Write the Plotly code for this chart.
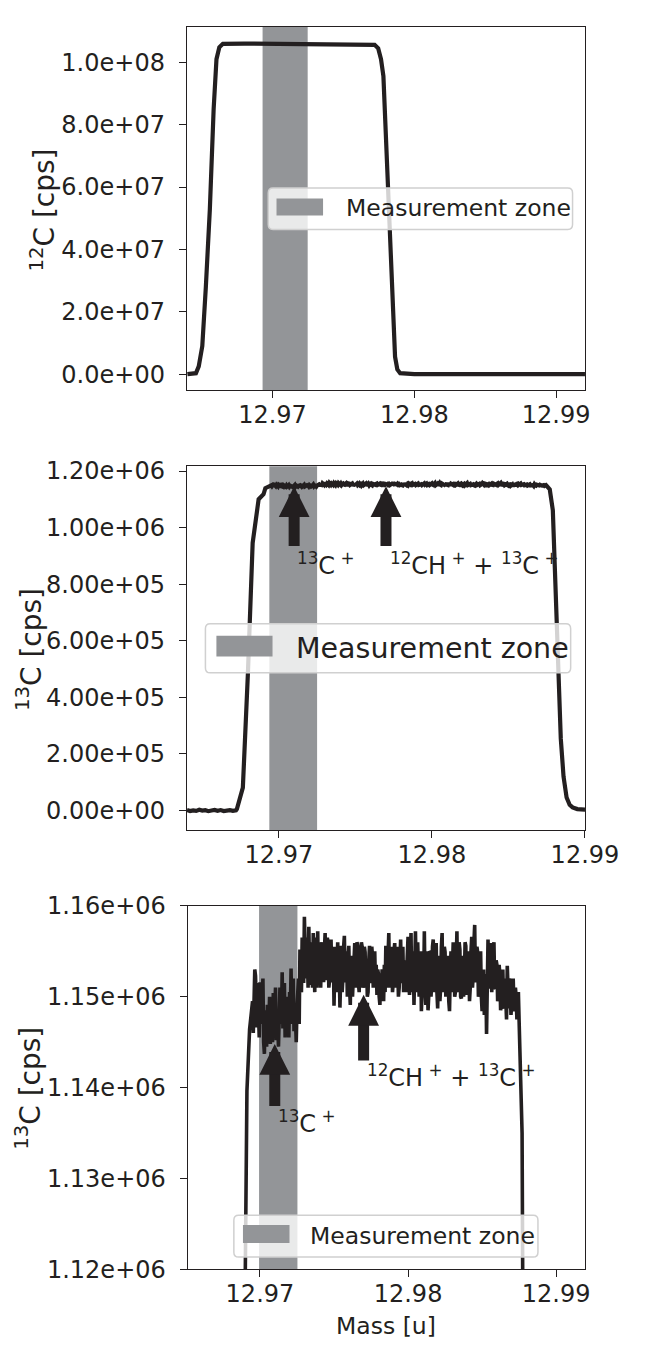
import plotly.graph_objects as go

W, H = 653, 1353
INK = '#231f20'
BAND = '#939598'
FONT = 'DejaVu Sans'

# ---------------- data ----------------
# 12C signal (cps)
mass_12c = [12.9640, 12.9644, 12.96460, 12.96480, 12.96505, 12.96530, 12.96558, 12.96585,
            12.96605, 12.96625, 12.96650, 12.9680, 12.9700, 12.9720, 12.9740, 12.9760,
            12.97720, 12.97745, 12.97765, 12.97782, 12.97796, 12.97808, 12.97822, 12.97836,
            12.97850, 12.97864, 12.97880, 12.97900, 12.9800, 12.9850, 12.9921]
cps_12c_mega = [0.0, 0.05, 0.3, 2.5, 9.0, 28.0, 52.7, 85.0,
                101.0, 104.8, 105.9, 106.0, 105.9, 105.8, 105.8, 105.7,
                105.6, 104.5, 101.0, 95.5, 80.0, 63.1, 45.0, 28.6,
                14.0, 5.6, 1.5, 0.3, 0.0, 0.0, 0.0]

# 13C signal: left baseline + rising edge
mass_13c_left = [12.9640, 12.9642, 12.9644, 12.9646, 12.9648, 12.9650, 12.9652, 12.9654,
                 12.9656, 12.9658, 12.9660, 12.9662, 12.9664, 12.9666, 12.9668, 12.9670,
                 12.9672, 12.96726, 12.96765, 12.96798, 12.96829, 12.96868, 12.96900,
                 12.96912, 12.96930]
kcps_13c_left = [1.5, -2.0, 0.5, -1.5, 2.5, -0.5, 1.0, -2.5,
                 0.0, 2.0, -1.0, 1.5, -2.0, 0.5, 1.0, -1.5,
                 0.5, 5.0, 80.7, 484.7, 946.0, 1100.0, 1118.0,
                 1139.6, 1146.4]
# plateau, regular scan: samples on the 0.0001 u grid and the half-step samples between them
plateau_start, plateau_step = 12.9695, 0.00005
kcps_13c_grid = [
    1149.5, 1151.0, 1152.3, 1146.6, 1149.0, 1151.6, 1148.0, 1152.0, 1143.7, 1146.5,
    1149.1, 1147.0, 1144.8, 1147.5, 1150.4, 1148.0, 1145.2, 1146.8, 1147.7, 1150.0,
    1152.7, 1148.5, 1145.5, 1147.0, 1148.8, 1150.5, 1153.1, 1149.0, 1146.2, 1147.5,
    1148.7, 1152.0, 1155.2, 1150.5, 1154.0, 1158.8, 1152.0, 1155.0, 1157.7, 1151.3,
    1153.5, 1157.0, 1150.5, 1154.0, 1157.2, 1152.0, 1151.0, 1156.0, 1151.6, 1157.0,
    1152.0, 1155.9, 1151.8, 1156.3, 1151.6, 1149.0, 1155.5, 1152.5, 1151.0, 1148.8,
    1155.6, 1152.0, 1156.7, 1151.6, 1150.0, 1155.6, 1149.1, 1153.5, 1151.6, 1155.9,
    1152.3, 1155.6, 1150.5, 1152.5, 1155.5, 1151.5, 1154.9, 1153.5, 1150.5, 1155.6,
    1153.0, 1154.5, 1152.3, 1151.3, 1150.2, 1152.5, 1149.1, 1150.5, 1151.3, 1153.5,
    1155.6, 1152.0, 1157.0, 1152.3, 1154.5, 1151.6, 1155.9, 1152.8, 1153.4, 1151.0,
    1156.3, 1152.5, 1150.5, 1154.0, 1153.4, 1156.6, 1150.2, 1157.0, 1152.0, 1149.1,
    1157.2, 1150.5, 1153.0, 1151.5, 1148.4, 1153.0, 1157.2, 1149.1, 1152.3, 1150.2,
    1154.9, 1151.6, 1156.3, 1150.5, 1155.9, 1148.7, 1154.5, 1151.0, 1157.0, 1152.0,
    1154.9, 1150.9, 1153.0, 1148.4, 1155.0, 1152.5, 1154.9, 1150.5, 1157.2, 1151.3,
    1155.2, 1149.8, 1154.5, 1151.6, 1155.6, 1150.2, 1153.8, 1151.0, 1156.6, 1152.3,
    1157.9, 1151.6, 1154.9, 1150.5, 1155.0, 1148.4, 1153.0, 1149.5, 1145.9, 1156.3,
    1150.9, 1155.9, 1152.0, 1156.0, 1150.9, 1153.5, 1150.2, 1152.5, 1149.1, 1153.0,
    1148.7, 1150.5, 1153.4, 1148.7, 1151.0, 1149.1, 1152.0, 1148.4, 1150.0, 1149.0,
    1147.3]
kcps_13c_half = [
    1146.0, 1153.0, 1147.5, 1151.5, 1145.5, 1147.0, 1151.5, 1145.0, 1148.5, 1144.5,
    1145.0, 1150.0, 1148.0, 1145.0, 1146.0, 1151.0, 1148.5, 1144.5, 1151.0, 1147.0,
    1146.5, 1151.5, 1148.0, 1150.0, 1145.5, 1148.0, 1147.0, 1152.0, 1149.0, 1145.0,
    1150.5, 1147.0, 1151.0, 1156.5, 1151.5, 1153.0, 1156.5, 1151.0, 1153.0, 1156.0,
    1151.0, 1152.0, 1156.5, 1151.0, 1151.5, 1156.0, 1154.5, 1152.5, 1155.0, 1152.0,
    1156.5, 1151.0, 1155.0, 1152.0, 1155.5, 1153.0, 1150.5, 1156.0, 1153.5, 1152.0,
    1150.5, 1155.5, 1152.0, 1155.0, 1154.0, 1151.0, 1154.5, 1150.0, 1154.5, 1151.0,
    1156.0, 1151.5, 1154.5, 1156.0, 1151.0, 1155.5, 1151.0, 1150.0, 1154.0, 1151.5,
    1155.5, 1151.0, 1155.0, 1153.5, 1153.0, 1150.0, 1152.5, 1153.0, 1149.5, 1150.5,
    1151.0, 1155.5, 1151.0, 1155.5, 1150.5, 1155.0, 1151.0, 1155.5, 1150.0, 1154.5,
    1151.5, 1155.5, 1153.5, 1150.5, 1156.0, 1151.5, 1154.0, 1150.5, 1155.0, 1153.5,
    1152.0, 1156.0, 1150.0, 1155.0, 1152.5, 1150.5, 1151.0, 1155.0, 1148.5, 1155.0,
    1150.0, 1155.5, 1151.5, 1154.5, 1150.5, 1152.5, 1149.5, 1155.5, 1150.5, 1155.5,
    1150.0, 1154.5, 1149.5, 1152.5, 1150.5, 1156.0, 1150.0, 1153.5, 1150.5, 1156.0,
    1150.0, 1153.5, 1150.0, 1156.0, 1151.0, 1155.0, 1149.5, 1155.0, 1151.0, 1156.0,
    1152.0, 1155.5, 1150.0, 1154.5, 1150.0, 1152.5, 1148.0, 1152.5, 1151.0, 1151.5,
    1155.0, 1150.5, 1154.5, 1151.0, 1154.0, 1149.5, 1153.5, 1148.5, 1152.5, 1149.0,
    1152.0, 1147.5, 1150.0, 1152.0, 1148.0, 1151.5, 1149.0, 1151.0, 1147.5, 1150.5]
# falling edge + right baseline
mass_13c_right = [12.98770, 12.98790, 12.98803, 12.98816, 12.98829, 12.98842, 12.98860,
                  12.98880, 12.98900, 12.98919, 12.98950, 12.9900, 12.9920]
kcps_13c_right = [1135.0, 1061.5, 880.0, 658.0, 450.0, 254.0, 120.0,
                  46.0, 20.0, 11.0, 5.0, 3.0, 2.0]

# measurement zone per panel (mass range)
zone_12c = [12.96930, 12.97248]
zone_13c = [12.96938, 12.97250]
zone_13c_zoom = [12.96994, 12.97253]

# peak labels / arrows
arrow_mass = [12.9710, 12.9770]
label_mass = [12.97106, 12.97711]
NB = '\u00a0'
peak_labels = ['<sup>13</sup>C<sup>' + NB + '+</sup>',
               '<sup>12</sup>CH<sup>' + NB + '+</sup>' + NB + '+' + NB
               + '<sup>13</sup>C<sup>' + NB + '+</sup>']
p2_arrow_tip = [1.146e6, 1.146e6]
p2_arrow_tail = [0.93e6, 0.93e6]
p2_label_top = [0.934e6, 0.934e6]
p3_arrow_tip = [1.1448e6, 1.1502e6]
p3_arrow_tail = [1.1378e6, 1.1428e6]
p3_label_top = [1.1382e6, 1.1432e6]

# axis ticks
x_tickvals = [12.97, 12.98, 12.99]
x_ticktext = ['12.97', '12.98', '12.99']
y1_tickvals = [0, 2e7, 4e7, 6e7, 8e7, 1e8]
y1_ticktext = ['0.0e+00', '2.0e+07', '4.0e+07', '6.0e+07', '8.0e+07', '1.0e+08']
y2_tickvals = [0, 2e5, 4e5, 6e5, 8e5, 1e6, 1.2e6]
y2_ticktext = ['0.00e+00', '2.00e+05', '4.00e+05', '6.00e+05', '8.00e+05', '1.00e+06', '1.20e+06']
y3_tickvals = [1.12e6, 1.13e6, 1.14e6, 1.15e6, 1.16e6]
y3_ticktext = ['1.12e+06', '1.13e+06', '1.14e+06', '1.15e+06', '1.16e+06']

legend_label = 'Measurement zone'
ylabels = ['<sup>12</sup>C [cps]', '<sup>13</sup>C [cps]', '<sup>13</sup>C [cps]']
xlabel = 'Mass [u]'

# ---------------- assemble series ----------------
kcps_13c_plateau = [v for pair in zip(kcps_13c_grid, kcps_13c_half) for v in pair] + [kcps_13c_grid[-1]]
mass_13c_plateau = [round(plateau_start + plateau_step * i, 6) for i in range(len(kcps_13c_plateau))]
mass_13c = mass_13c_left + mass_13c_plateau + mass_13c_right
cps_13c = [v * 1e3 for v in (kcps_13c_left + kcps_13c_plateau + kcps_13c_right)]
cps_12c = [v * 1e6 for v in cps_12c_mega]

# ---------------- layout geometry (pixels) ----------------
panels = [  # x0, x1, ytop, ybot
    (197.1, 617.1, 13.3, 384.3),
    (197.1, 617.1, 461.7, 833.3),
    (198.0, 617.0, 910.7, 1281.7),
]
xranges = [[12.96396, 12.99203], [12.96399, 12.99], [12.96512, 12.99194]]
yranges = [[-5.2e6, 1.113e8], [-69.2e3, 1.2173e6], [1.12e6, 1.16e6]]


def px(x):
    return x / W


def py(y):
    return 1 - y / H


fig = go.Figure()
fig.add_trace(go.Scatter(x=mass_12c, y=cps_12c, mode='lines', xaxis='x', yaxis='y',
                         line=dict(color=INK, width=4.2), showlegend=False))
fig.add_trace(go.Scatter(x=mass_13c, y=cps_13c, mode='lines', xaxis='x2', yaxis='y2',
                         line=dict(color=INK, width=4.2), showlegend=False))
fig.add_trace(go.Scatter(x=mass_13c, y=cps_13c, mode='lines', xaxis='x3', yaxis='y3',
                         line=dict(color=INK, width=3.6), showlegend=False))

tickfont = dict(family=FONT, size=24, color=INK)
yticks = [(y1_tickvals, y1_ticktext), (y2_tickvals, y2_ticktext), (y3_tickvals, y3_ticktext)]
layout = dict(width=W, height=H, margin=dict(l=0, r=0, t=0, b=0),
              paper_bgcolor='white', plot_bgcolor='white', showlegend=False,
              font=dict(family=FONT, color=INK))
for k, ((x0, x1, yt, yb), xr, yr, (tv, tt)) in enumerate(zip(panels, xranges, yranges, yticks)):
    sfx = '' if k == 0 else str(k + 1)
    layout['xaxis' + sfx] = dict(domain=[px(x0), px(x1)], range=xr, anchor='y' + sfx,
                                 tickvals=x_tickvals, ticktext=x_ticktext, tickfont=tickfont,
                                 showgrid=False, zeroline=False, showline=True, mirror=True,
                                 linecolor=INK, linewidth=1.2, ticks='outside', ticklen=7,
                                 tickwidth=1.2, tickcolor=INK, ticklabelstandoff=-4)
    layout['yaxis' + sfx] = dict(domain=[py(yb), py(yt)], range=yr, anchor='x' + sfx,
                                 tickvals=tv, ticktext=tt, tickfont=tickfont,
                                 showgrid=False, zeroline=False, showline=True, mirror=True,
                                 linecolor=INK, linewidth=1.2, ticks='outside', ticklen=7,
                                 tickwidth=1.2, tickcolor=INK, ticklabelstandoff=9)
fig.update_layout(**layout)

shapes = []
# measurement zones
for k, zone in enumerate([zone_12c, zone_13c, zone_13c_zoom]):
    sfx = '' if k == 0 else str(k + 1)
    shapes.append(dict(type='rect', xref='x' + sfx, yref='y' + sfx + ' domain',
                       x0=zone[0], x1=zone[1], y0=0, y1=1, fillcolor=BAND,
                       line=dict(width=0), layer='below'))

# legends drawn as boxes (box px, patch px, text-left px, text-center-y px, font size)
legends = [
    ((283, 177.7, 604, 220), (291.7, 188.3, 340.8, 205.7), 362.5, 198.5, 23.5),
    ((216.7, 622.7, 602, 672.7), (228.3, 635, 287.5, 656), 310.4, 647.5, 28.5),
    ((246.7, 1226.7, 567.5, 1269.3), (256.3, 1236.7, 305.4, 1255), 325, 1247.5, 23.5),
]
annotations = []
r = 5
for (bx0, by0, bx1, by1), (qx0, qy0, qx1, qy1), tx, ty, fs in legends:
    X0, X1, Yt, Yb = px(bx0), px(bx1), py(by0), py(by1)
    rx, ry = r / W, r / H
    path = (f"M{X0+rx},{Yb} L{X1-rx},{Yb} Q{X1},{Yb} {X1},{Yb+ry} L{X1},{Yt-ry} "
            f"Q{X1},{Yt} {X1-rx},{Yt} L{X0+rx},{Yt} Q{X0},{Yt} {X0},{Yt-ry} "
            f"L{X0},{Yb+ry} Q{X0},{Yb} {X0+rx},{Yb} Z")
    shapes.append(dict(type='path', xref='paper', yref='paper', path=path,
                       fillcolor='rgba(255,255,255,0.8)',
                       line=dict(color='#d0d0d0', width=1.5), layer='above'))
    shapes.append(dict(type='rect', xref='paper', yref='paper',
                       x0=px(qx0), x1=px(qx1), y0=py(qy1), y1=py(qy0),
                       fillcolor=BAND, line=dict(width=0), layer='above'))
    annotations.append(dict(xref='paper', yref='paper', x=px(tx), y=py(ty),
                            xanchor='left', yanchor='middle', showarrow=False,
                            text=legend_label, font=dict(family=FONT, size=fs, color=INK)))

# peak arrows and labels
for sfx, tips, tails, tops in [('2', p2_arrow_tip, p2_arrow_tail, p2_label_top),
                               ('3', p3_arrow_tip, p3_arrow_tail, p3_label_top)]:
    for xm, tip, tail, lx, top, lab in zip(arrow_mass, tips, tails, label_mass, tops, peak_labels):
        annotations.append(dict(xref='x' + sfx, yref='y' + sfx, axref='x' + sfx, ayref='y' + sfx,
                                x=xm, y=tip, ax=xm, ay=tail, text='', showarrow=True,
                                arrowhead=2, arrowsize=0.56, arrowwidth=11, arrowcolor=INK,
                                standoff=0, startstandoff=0))
        annotations.append(dict(xref='x' + sfx, yref='y' + sfx, x=lx, y=top,
                                xanchor='left', yanchor='top', showarrow=False, text=lab,
                                font=dict(family=FONT, size=24, color=INK)))

# axis labels
ylabel_pos = [(46, 200), (31, 649), (30, 1097)]
for (lx, ly), lab in zip(ylabel_pos, ylabels):
    annotations.append(dict(xref='paper', yref='paper', x=px(lx), y=py(ly),
                            xanchor='center', yanchor='middle', showarrow=False,
                            textangle=-90, text=lab, font=dict(family=FONT, size=28, color=INK)))
annotations.append(dict(xref='paper', yref='paper', x=px(407.5), y=py(1340),
                        xanchor='center', yanchor='middle', showarrow=False,
                        text=xlabel, font=dict(family=FONT, size=23.5, color=INK)))

fig.update_layout(shapes=shapes, annotations=annotations)
fig.write_html('out.html')
